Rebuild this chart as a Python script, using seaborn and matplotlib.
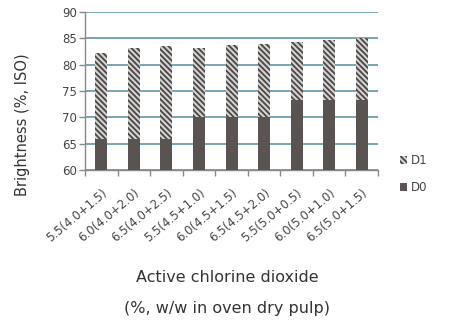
import matplotlib
matplotlib.use("Agg")
import matplotlib.pyplot as plt
import seaborn as sns
import pandas as pd
import numpy as np

categories = ["5.5(4.0+1.5)", "6.0(4.0+2.0)", "6.5(4.0+2.5)", "5.5(4.5+1.0)", "6.0(4.5+1.5)",
              "6.5(4.5+2.0)", "5.5(5.0+0.5)", "6.0(5.0+1.0)", "6.5(5.0+1.5)"]
d0_brightness = [65.8, 65.8, 65.8, 70.1, 70.1, 70.1, 73.3, 73.3, 73.3]
d1_brightness = [82.2, 83.1, 83.5, 83.1, 83.7, 84.0, 84.2, 84.7, 85.1]
yticks = [60, 65, 70, 75, 80, 85, 90]

sns.set_theme(style="white")
plt.rcParams['font.family'] = ['DejaVu Sans']
plt.rcParams['hatch.linewidth'] = 1.3

df = pd.DataFrame({"cat": categories, "D0": d0_brightness, "D1": d1_brightness})

fig = plt.figure(figsize=(4.5, 3.23), dpi=100)
ax = fig.add_axes([0.189, 0.474, 0.651, 0.489])

for y in yticks:
    ax.axhline(y, color="#5f97a6", lw=1.2, zorder=0)

sns.barplot(data=df, x="cat", y="D1", ax=ax, color="#d4d2d0", width=0.37,
            linewidth=0, label="D1", zorder=2)
sns.barplot(data=df, x="cat", y="D0", ax=ax, color="#5a5451", width=0.37,
            linewidth=0, label="D0", zorder=3)

n = len(categories)
for p in ax.patches[:n]:
    p.set_hatch("\\" * 6)
    p.set_edgecolor("#4a4644")
    p.set_linewidth(0)

ax.set_ylim(60, 90)
ax.set_xlim(-0.5, 8.5)
ax.set_yticks(yticks)
ax.tick_params(axis="y", labelsize=8.5, colors="#444444", length=4, left=True, width=1, pad=2)
ax.set_xticks(np.arange(n))
ax.set_xticklabels(categories, rotation=40, ha="right", rotation_mode="anchor", fontsize=8.5, color="#444444")
ax.tick_params(axis="x", length=0, pad=12)
ax.set_xticks(np.arange(-0.5, n, 1), minor=True)
ax.tick_params(axis="x", which="minor", length=4, bottom=True, color="#888888", width=1)
ax.tick_params(axis="y", color="#888888")

for s in ["top", "right"]:
    ax.spines[s].set_visible(False)
for s in ["left", "bottom"]:
    ax.spines[s].set_color("#888888")
    ax.spines[s].set_linewidth(1)

ax.set_ylabel("Brightness (%, ISO)", fontsize=10.5, color="#333333")
ax.yaxis.set_label_coords(-0.188, 0.285)
ax.set_xlabel("")
fig.text(0.505, 0.142, "Active chlorine dioxide", ha="center", va="center", fontsize=11.5, color="#333333")
fig.text(0.505, 0.046, "(%, w/w in oven dry pulp)", ha="center", va="center", fontsize=11.5, color="#333333")

handles, labels = ax.get_legend_handles_labels()
leg = ax.legend(handles, labels, loc="upper left", bbox_to_anchor=(1.06, 0.13), frameon=False,
                fontsize=8.5, handlelength=0.6, handleheight=0.6, labelspacing=1.2, handletextpad=0.3,
                labelcolor="#444444", borderaxespad=0)

fig.savefig("out.png", dpi=100)
